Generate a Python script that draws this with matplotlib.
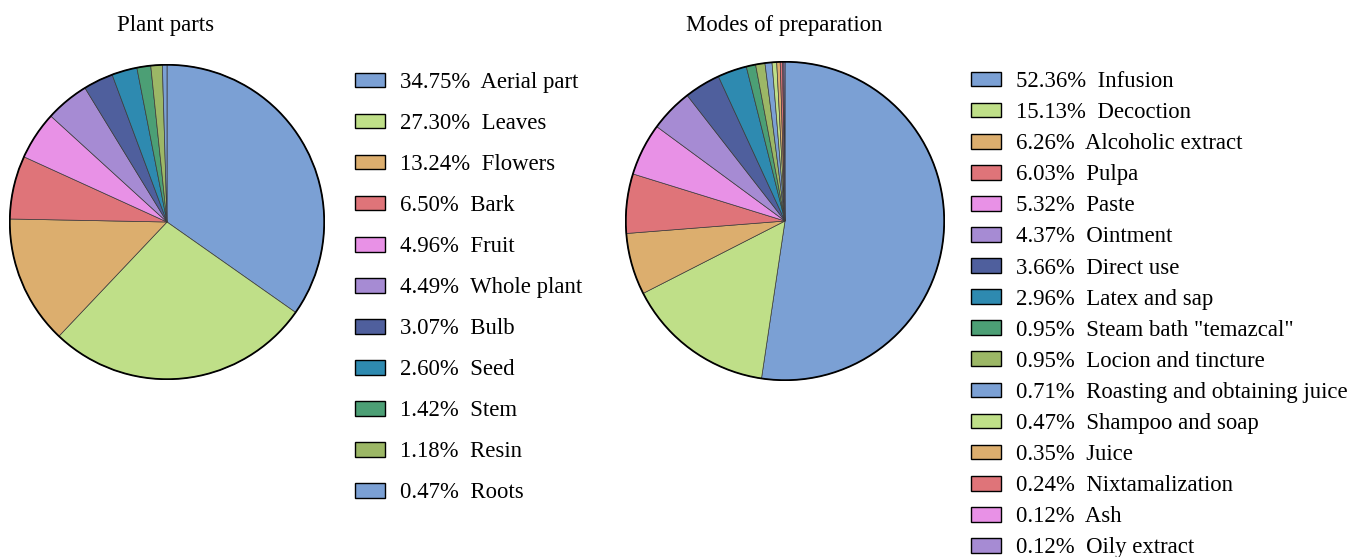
import matplotlib
matplotlib.use("Agg")
from matplotlib import pyplot as plt
from matplotlib.patches import Circle

plt.rcParams["font.family"] = ["Liberation Serif", "DejaVu Serif"]

# data
plant_parts = ["Aerial part", "Leaves", "Flowers", "Bark", "Fruit", "Whole plant",
               "Bulb", "Seed", "Stem", "Resin", "Roots"]
plant_pct = [34.75, 27.30, 13.24, 6.50, 4.96, 4.49, 3.07, 2.60, 1.42, 1.18, 0.47]

modes = ["Infusion", "Decoction", "Alcoholic extract", "Pulpa", "Paste", "Ointment",
         "Direct use", "Latex and sap", 'Steam bath "temazcal"', "Locion and tincture",
         "Roasting and obtaining juice", "Shampoo and soap", "Juice", "Nixtamalization",
         "Ash", "Oily extract"]
modes_pct = [52.36, 15.13, 6.26, 6.03, 5.32, 4.37, 3.66, 2.96, 0.95, 0.95,
             0.71, 0.47, 0.35, 0.24, 0.12, 0.12]

palette = ["#7ba0d4", "#bfdf88", "#dcae6e", "#df7479", "#e891e6",
           "#a68bd3", "#4f5f9d", "#2e8ab0", "#4c9f75", "#9cb766"]

FS = 16.4


def draw_pie(ax, labels, vals, title, title_x, leg_anchor, spacing):
    cols = [palette[i % len(palette)] for i in range(len(vals))]
    wedges, _ = ax.pie(vals, colors=cols, startangle=90, counterclock=False,
                       wedgeprops=dict(edgecolor="#3a3a3a", linewidth=0.5))
    ax.add_patch(Circle((0, 0), 1, fill=False, edgecolor="black", linewidth=1.3))
    ax.set_xlim(-1.005, 1.005)
    ax.set_ylim(-1.005, 1.005)
    ax.set_aspect("equal")
    ax.axis("off")
    leg_labels = ["%.2f%%  %s" % (v, l) for v, l in zip(vals, labels)]
    leg = fig.legend(wedges, leg_labels, loc="upper left", bbox_to_anchor=leg_anchor,
                     bbox_transform=fig.transFigure, frameon=False, fontsize=FS,
                     handlelength=1.32, handleheight=0.62, handletextpad=0.66,
                     labelspacing=spacing, borderpad=0, borderaxespad=0)
    for h in leg.legend_handles:
        h.set_edgecolor("black")
        h.set_linewidth(1.0)
    fig.text(title_x, 1 - 25 / 557, title, ha="center", va="center", fontsize=FS)


fig = plt.figure(figsize=(13.5, 5.57), dpi=100)
ax1 = fig.add_axes([9 / 1350, 1 - 380 / 557, 316 / 1350, 316 / 557])
ax2 = fig.add_axes([625 / 1350, 1 - 381 / 557, 320 / 1350, 320 / 557])

draw_pie(ax1, plant_parts, plant_pct, "Plant parts", 166 / 1350, (355 / 1350, 1 - 72 / 557), 0.88)
draw_pie(ax2, modes, modes_pct, "Modes of preparation", 784 / 1350, (971 / 1350, 1 - 71 / 557), 0.443)

fig.savefig("out.png", dpi=100)
